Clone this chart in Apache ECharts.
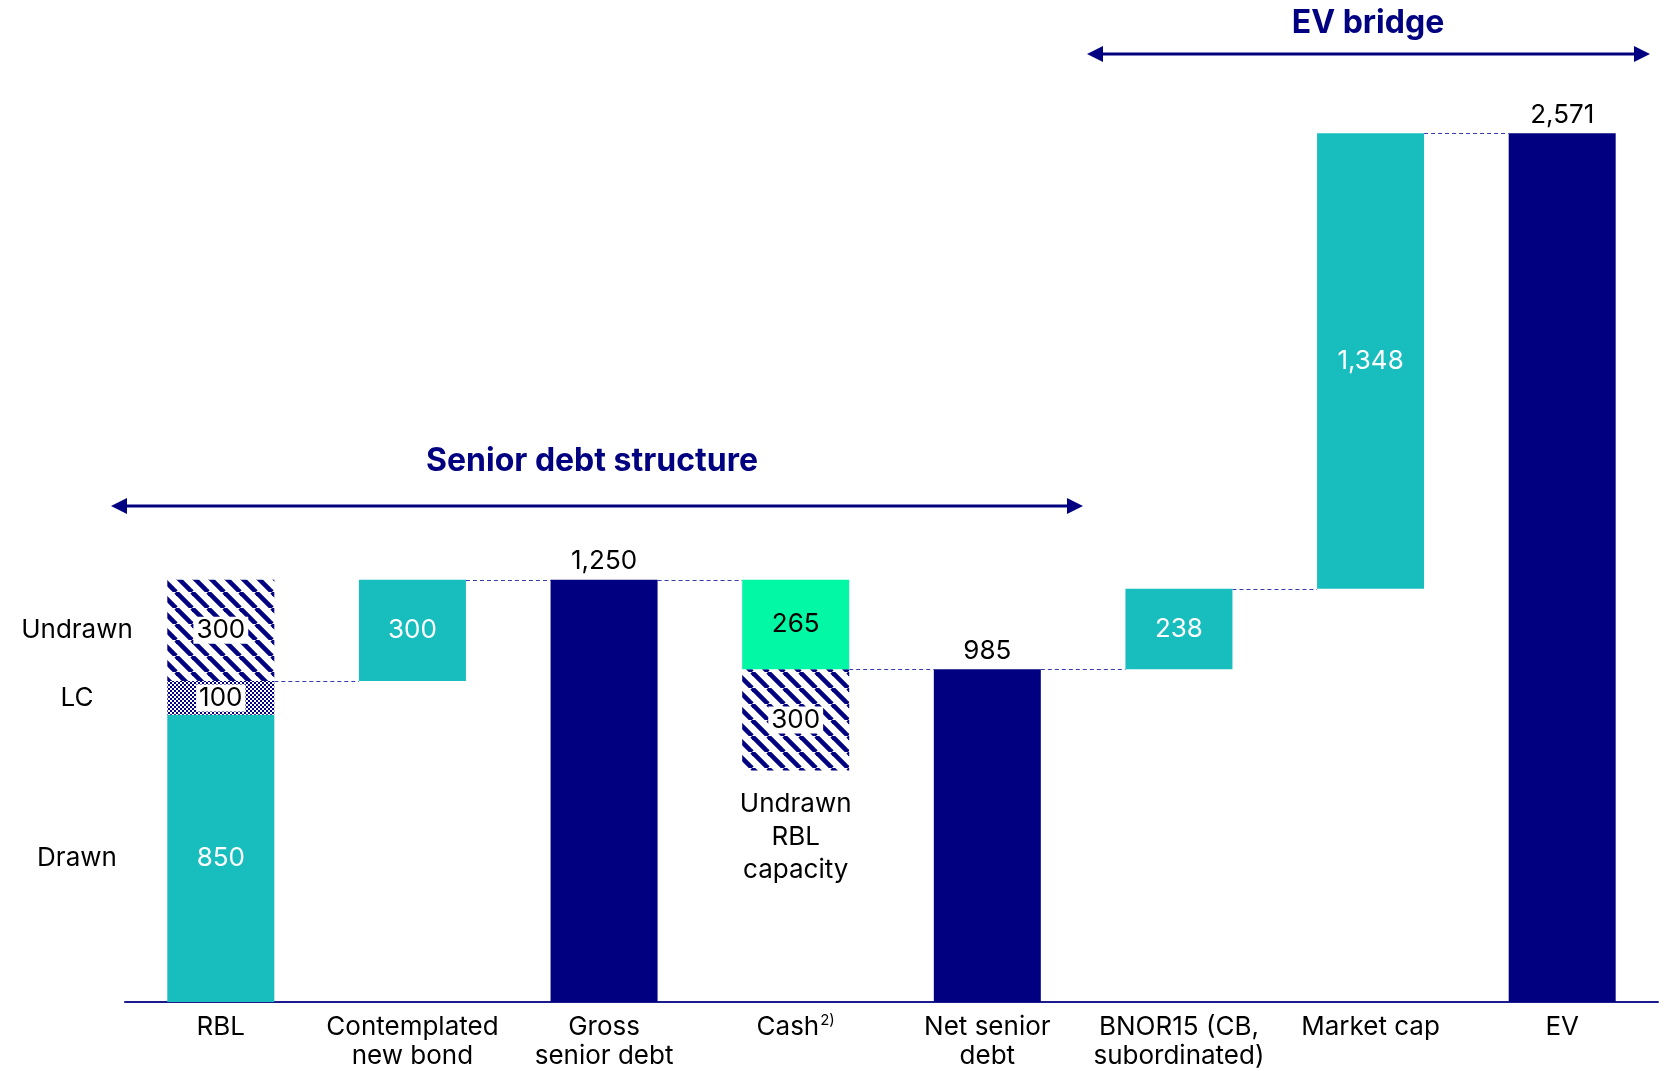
<!DOCTYPE html>
<html>
<head>
<meta charset="utf-8">
<title>Senior debt structure and EV bridge</title>
<script src="https://cdn.jsdelivr.net/npm/echarts@6/dist/echarts.min.js"></script>
<style>
  html, body { margin: 0; padding: 0; background: #ffffff; }
  #chart { width: 1665px; height: 1071px; }
</style>
</head>
<body>
<div id="chart"></div>
<script>
// ---- data ----
const categories = ['RBL', 'Contemplated\nnew bond', 'Gross\nsenior debt', 'Cash', 'Net senior\ndebt', 'BNOR15 (CB,\nsubordinated)', 'Market cap', 'EV'];
// invisible offsets that lift the floating segments
const offsetValues = [0, 950, 0, 685, 0, 985, 1223, 0];
// stacked segments, bottom to top
const lowerValues  = [850, 300, 1250, 300, 985, 238, 1348, 2571];
const middleValues = [100, null, null, 265, null, null, null, null];
const upperValues  = [300, null, null, null, null, null, null, null];
// fill kind of each segment
const lowerKinds  = ['teal', 'teal', 'navy', 'stripe', 'navy', 'teal', 'teal', 'navy'];
const middleKinds = ['checker', null, null, 'green', null, null, null, null];
const upperKinds  = ['stripe', null, null, null, null, null, null, null];
// dashed connector levels between neighbouring bars
const connectorLevels = [950, 1250, 1250, 985, 985, 1223, 2571];
// RBL component names (bottom to top) and the caption under the cash hatch
const rblParts = ['Drawn', 'LC', 'Undrawn'];
const cashCaption = ['Undrawn', 'RBL', 'capacity'];
const sectionTitles = ['Senior debt structure', 'EV bridge'];

// ---- styling ----
const NAVY = '#000080';
const TEAL = '#18BDBE';
const GREEN = '#02F8A4';
const FONT = 'Inter, "Liberation Sans", Arial, sans-serif';
const FS = 26;
const BAR_W = 107;

function stripePattern() {
  const s = 16;
  const c = document.createElement('canvas');
  c.width = s; c.height = s;
  const g = c.getContext('2d');
  g.fillStyle = '#ffffff';
  g.fillRect(0, 0, s, s);
  g.strokeStyle = NAVY;
  g.lineWidth = 4.6;
  for (const o of [-s, 0, s]) {
    g.beginPath();
    g.moveTo(o, 0);
    g.lineTo(o + s, s);
    g.stroke();
  }
  return { image: c, repeat: 'repeat' };
}

function checkerPattern() {
  const c = document.createElement('canvas');
  c.width = 4; c.height = 4;
  const g = c.getContext('2d');
  g.fillStyle = '#ffffff';
  g.fillRect(0, 0, 4, 4);
  g.fillStyle = NAVY;
  g.fillRect(0, 0, 2, 2);
  g.fillRect(2, 2, 2, 2);
  return { image: c, repeat: 'repeat' };
}

const fills = {
  teal: TEAL,
  navy: NAVY,
  green: GREEN,
  stripe: stripePattern(),
  checker: checkerPattern()
};

const fmt = v => v.toLocaleString('en-US');

function labelFor(kind) {
  const base = { show: true, fontFamily: FONT, fontSize: FS, formatter: p => fmt(p.value) };
  if (kind === 'navy') return Object.assign(base, { position: 'top', distance: 5, color: '#000' });
  if (kind === 'teal') return Object.assign(base, { position: 'inside', color: '#ffffff' });
  if (kind === 'green') return Object.assign(base, { position: 'inside', color: '#000' });
  // hatched fills: value sits in a white box
  return Object.assign(base, {
    position: 'inside', color: '#000', backgroundColor: '#ffffff', padding: [1, 3, 0, 3]
  });
}

function segments(values, kinds) {
  return values.map((v, i) => {
    if (v === null) return '-';
    return { value: v, itemStyle: { color: fills[kinds[i]] }, label: labelFor(kinds[i]) };
  });
}

const cashIndex = categories.indexOf('Cash');
const offsetData = offsetValues.map((v, i) => ({
  value: v,
  itemStyle: { color: 'rgba(0,0,0,0)' },
  label: i === cashIndex ? {
    show: true, position: 'insideTop', distance: 17, formatter: cashCaption.join('\n'),
    fontFamily: FONT, fontSize: FS, lineHeight: 33, color: '#000', align: 'center'
  } : { show: false }
}));

const barCommon = {
  type: 'bar', stack: 'total', barWidth: BAR_W, animation: false,
  emphasis: { disabled: true }, silent: true
};

const chart = echarts.init(document.getElementById('chart'), null, { renderer: 'canvas' });

chart.setOption({
  backgroundColor: '#ffffff',
  animation: false,
  grid: { left: 125, right: 7, top: 56, bottom: 64, containLabel: false },
  xAxis: {
    type: 'category',
    data: categories,
    axisLine: { lineStyle: { color: '#1b1b8e', width: 2 } },
    axisTick: { show: false },
    axisLabel: {
      interval: 0, color: '#000', fontFamily: FONT, fontSize: FS, lineHeight: 29, margin: 11,
      formatter: v => (v === 'Cash' ? 'Cash{sup|2)}' : v),
      rich: {
        sup: { fontFamily: FONT, fontSize: 15, color: '#000', verticalAlign: 'top', padding: [0, 0, 12, 1] }
      }
    }
  },
  yAxis: { type: 'value', min: 0, max: 2800, show: false, splitLine: { show: false } },
  series: [
    Object.assign({}, barCommon, { name: 'offset', data: offsetData }),
    Object.assign({}, barCommon, { name: 'lower', data: segments(lowerValues, lowerKinds) }),
    Object.assign({}, barCommon, { name: 'middle', data: segments(middleValues, middleKinds) }),
    Object.assign({}, barCommon, { name: 'upper', data: segments(upperValues, upperKinds) }),
    {
      type: 'custom', name: 'connectors', silent: true, animation: false, z: 1,
      data: connectorLevels.map((v, i) => [i, v]),
      renderItem: (params, api) => {
        const p = api.coord([api.value(0), api.value(1)]);
        const step = api.size([1, 0])[0];
        const y = Math.round(p[1]) + 0.5;
        return {
          type: 'line',
          shape: { x1: p[0] + BAR_W / 2, y1: y, x2: p[0] + step - BAR_W / 2, y2: y },
          style: { stroke: '#3a3ab0', lineWidth: 1, lineDash: [4, 3] }
        };
      }
    }
  ]
});

// names of the RBL components, centred on each segment
const rblMids = [];
let acc = 0;
[lowerValues[0], middleValues[0], upperValues[0]].forEach(v => { rblMids.push(acc + v / 2); acc += v; });
const sideTexts = rblParts.map((name, i) => ({
  type: 'text',
  x: 77,
  y: chart.convertToPixel({ yAxisIndex: 0 }, rblMids[i]),
  style: { text: name, font: FS + 'px ' + FONT, fill: '#000', align: 'center', verticalAlign: 'middle' }
}));

function doubleArrow(x1, x2, y) {
  const head = 16, half = 8;
  return {
    type: 'group',
    children: [
      { type: 'line', shape: { x1: x1 + head - 2, y1: y, x2: x2 - head + 2, y2: y }, style: { stroke: NAVY, lineWidth: 3 } },
      { type: 'polygon', shape: { points: [[x1, y], [x1 + head, y - half], [x1 + head, y + half]] }, style: { fill: NAVY } },
      { type: 'polygon', shape: { points: [[x2, y], [x2 - head, y - half], [x2 - head, y + half]] }, style: { fill: NAVY } }
    ]
  };
}

function sectionTitle(text, x, y) {
  return {
    type: 'text', x: x, y: y,
    style: { text: text, font: 'bold 32px ' + FONT, fill: NAVY, align: 'center', verticalAlign: 'middle' }
  };
}

chart.setOption({
  graphic: [
    ...sideTexts,
    doubleArrow(111, 1083, 506),
    sectionTitle(sectionTitles[0], 592, 461),
    doubleArrow(1087, 1650, 54),
    sectionTitle(sectionTitles[1], 1368, 23)
  ]
});
</script>
</body>
</html>
